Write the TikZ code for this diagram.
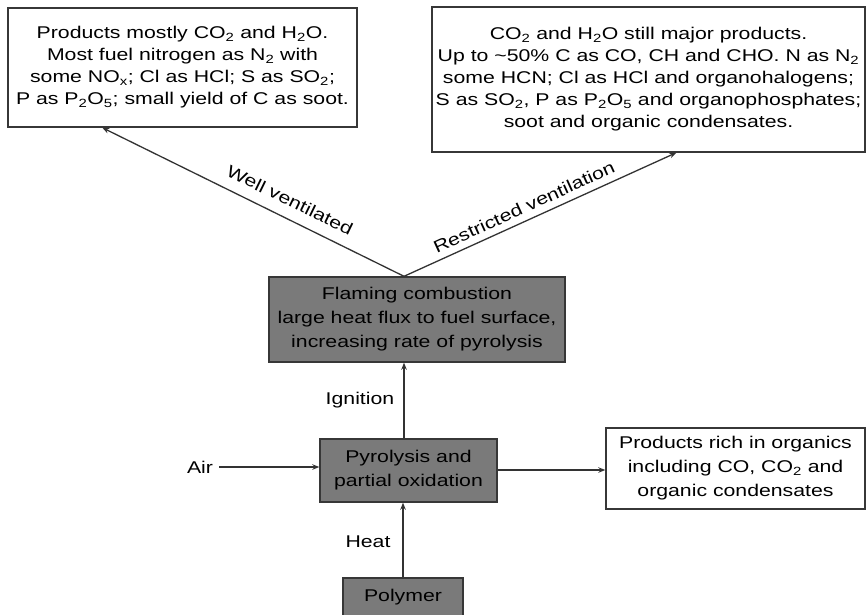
\documentclass[tikz,border=0pt]{standalone}
\usepackage{fontspec}
\setmainfont[FakeStretch=1.25]{Liberation Sans}
\usetikzlibrary{arrows.meta}
\definecolor{boxgray}{RGB}{122,122,122}
\definecolor{edgegray}{RGB}{55,55,55}
\begin{document}
\begin{tikzpicture}[x=1pt,y=-1pt,
  every node/.style={inner sep=0pt, align=center, font={\fontsize{17}{22}\selectfont}},
  whitebox/.style={draw=edgegray, line width=1.4pt, fill=white},
  graybox/.style={draw=edgegray, line width=1.4pt, fill=boxgray, font={\fontsize{17}{24}\selectfont}},
  arr/.style={draw=black!80, line width=1.3pt, -{Stealth[length=7pt,width=5.5pt]}},
  lbl/.style={inner sep=1pt}]
\useasboundingbox (0,0) rectangle (867,614);
\clip (0,0) rectangle (867,614);
\fill[white] (0,0) rectangle (867,614);

\node[whitebox, minimum width=349pt, minimum height=119pt] (well) at (182.5,67.5)
  {Products mostly CO\textsubscript{2} and H\textsubscript{2}O.\\
   Most fuel nitrogen as N\textsubscript{2} with\\
   some NO\textsubscript{x}; Cl as HCl; S as SO\textsubscript{2};\\
   P as P\textsubscript{2}O\textsubscript{5}; small yield of C as soot.};

\node[whitebox, minimum width=433pt, minimum height=145pt] (restr) at (648.5,79.5)
  {CO\textsubscript{2} and H\textsubscript{2}O still major products.\\
   Up to \textasciitilde50\% C as CO, CH and CHO. N as N\textsubscript{2}\\
   some HCN; Cl as HCl and organohalogens;\\
   S as SO\textsubscript{2}, P as P\textsubscript{2}O\textsubscript{5} and organophosphates;\\
   soot and organic condensates.};

\node[graybox, minimum width=296pt, minimum height=85pt] (flame) at (417,319.5)
  {Flaming combustion\\ large heat flux to fuel surface,\\ increasing rate of pyrolysis};

\node[graybox, minimum width=177pt, minimum height=63pt] (pyro) at (408.5,470.5)
  {Pyrolysis and\\ partial oxidation};

\node[whitebox, minimum width=259pt, minimum height=81pt, font={\fontsize{17}{24}\selectfont}] (prod) at (735.5,468.5)
  {Products rich in organics\\ including CO, CO\textsubscript{2} and\\ organic condensates};

\node[graybox, minimum width=120pt, minimum height=38pt] (poly) at (403,597) {Polymer};

\node[lbl] (air) at (200,467) {Air};
\node[lbl] (ign) at (360,400) {Ignition};
\node[lbl] (heat) at (368,542) {Heat};

\coordinate (apex) at ([xshift=-13pt]flame.north);

\draw[arr] (apex) -- ([xshift=95pt]well.south west);
\draw[arr] (apex) -- ([xshift=245pt]restr.south west);
\draw[arr] (pyro.north -| apex) -- (flame.south -| apex);
\draw[arr] ([xshift=5pt]air.east) -- (air.east -| pyro.west);
\draw[arr] (pyro.east |- 0,470) -- (prod.west |- 0,470);
\draw[arr] (poly.north) -- (pyro.south -| poly.north);

\node[lbl, rotate=-26] (wl) at (290,200) {Well ventilated};
\node[lbl, rotate=24.5] (rl) at (524,207) {Restricted ventilation};
\end{tikzpicture}
\end{document}
